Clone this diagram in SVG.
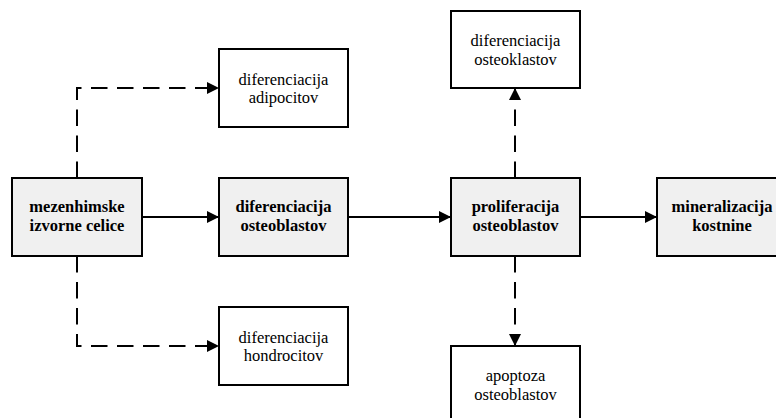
<svg xmlns="http://www.w3.org/2000/svg" width="776" height="418" viewBox="0 0 776 418">
<style>
  .box { stroke: #000; stroke-width: 2; fill: #fff; }
  .main { fill: #f0f0f0; }
  .t { font-family: "Liberation Serif", "Times New Roman", serif; font-size: 16.5px; text-anchor: middle; fill: #000; }
  .b { font-weight: bold; }
  .conn { stroke: #000; stroke-width: 2; fill: none; marker-end: url(#arrow); }
  .dash { stroke-dasharray: 16.5 9.5; }
</style>
<defs>
  <marker id="arrow" markerUnits="userSpaceOnUse" markerWidth="12" markerHeight="12" refX="12" refY="6" orient="auto">
    <path d="M0,0 L12,6 L0,12 Z" fill="#000"/>
  </marker>
</defs>
<rect width="776" height="418" fill="#fff"/>
<g id="connectors">
  <line class="conn" x1="142" y1="217" x2="219" y2="217"/>
  <line class="conn" x1="348" y1="217" x2="451" y2="217"/>
  <line class="conn" x1="580" y1="217" x2="657" y2="217"/>
  <path class="conn dash" d="M77,178 L77,88 L219,88"/>
  <path class="conn dash" d="M77,256 L77,346 L219,346"/>
  <path class="conn dash" d="M515,178 L515,88"/>
  <path class="conn dash" d="M515,256 L515,346"/>
</g>
<g id="mezenhimske">
  <rect class="box main" x="12" y="178" width="130" height="78"/>
  <text class="t b" x="77" y="212">mezenhimske</text>
  <text class="t b" x="77" y="231">izvorne celice</text>
</g>
<g id="dif-osteoblastov">
  <rect class="box main" x="219" y="178" width="129" height="78"/>
  <text class="t b" x="283.5" y="212">diferenciacija</text>
  <text class="t b" x="283.5" y="231">osteoblastov</text>
</g>
<g id="prolif-osteoblastov">
  <rect class="box main" x="451" y="178" width="129" height="78"/>
  <text class="t b" x="515.5" y="212">proliferacija</text>
  <text class="t b" x="515.5" y="231">osteoblastov</text>
</g>
<g id="mineralizacija">
  <rect class="box main" x="657" y="178" width="130" height="78"/>
  <text class="t b" x="722" y="212">mineralizacija</text>
  <text class="t b" x="722" y="231">kostnine</text>
</g>
<g id="dif-adipocitov">
  <rect class="box" x="219" y="49" width="129" height="78"/>
  <text class="t" x="283.5" y="85">diferenciacija</text>
  <text class="t" x="283.5" y="103">adipocitov</text>
</g>
<g id="dif-hondrocitov">
  <rect class="box" x="219" y="307" width="129" height="78"/>
  <text class="t" x="283.5" y="343">diferenciacija</text>
  <text class="t" x="283.5" y="361">hondrocitov</text>
</g>
<g id="dif-osteoklastov">
  <rect class="box" x="451" y="11" width="129" height="77"/>
  <text class="t" x="515.5" y="46">diferenciacija</text>
  <text class="t" x="515.5" y="65">osteoklastov</text>
</g>
<g id="apoptoza">
  <rect class="box" x="451" y="346" width="129" height="78"/>
  <text class="t" x="515.5" y="381">apoptoza</text>
  <text class="t" x="515.5" y="400">osteoblastov</text>
</g>
</svg>
